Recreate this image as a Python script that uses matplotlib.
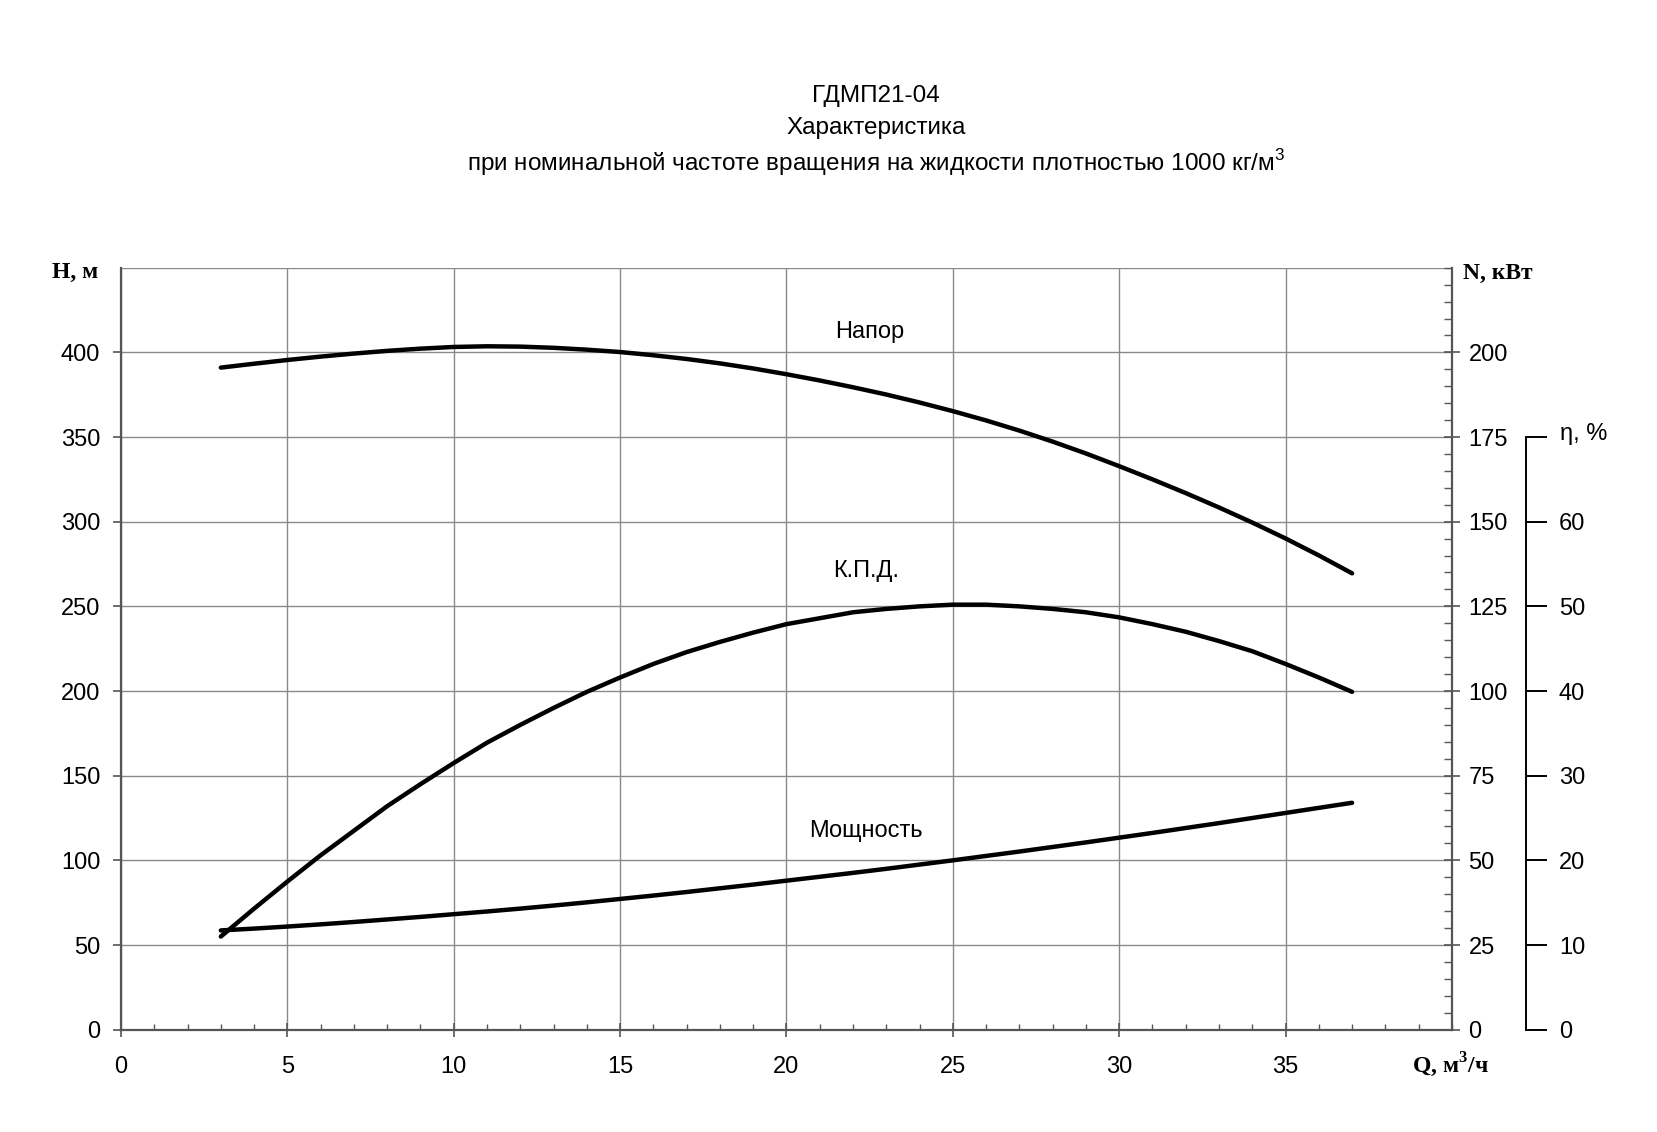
import matplotlib
matplotlib.use('Agg')
import matplotlib.pyplot as plt
from matplotlib.ticker import MultipleLocator

plt.rcParams['font.family'] = ['Liberation Sans', 'DejaVu Sans']
plt.rcParams['mathtext.fontset'] = 'custom'
plt.rcParams['mathtext.rm'] = 'Liberation Sans'
plt.rcParams['mathtext.bf'] = 'Liberation Serif:bold'

# подача, м3/ч
q = [3, 4, 5, 6, 7, 8, 9, 10, 11, 12, 13, 14, 15, 16, 17, 18, 19, 20,
     21, 22, 23, 24, 25, 26, 27, 28, 29, 30, 31, 32, 33, 34, 35, 36, 37]
# напор, м
head = [391, 393.3, 395.5, 397.5, 399.3, 400.9, 402.2, 403.2, 403.6, 403.4,
        402.7, 401.6, 400.2, 398.3, 396.1, 393.5, 390.5, 387.1, 383.4, 379.4,
        375.1, 370.4, 365.3, 359.8, 353.8, 347.3, 340.3, 332.8, 325.0, 316.9,
        308.4, 299.5, 290.1, 280.1, 269.5]
# кпд, %
eff = [11.0, 14.3, 17.5, 20.6, 23.5, 26.4, 29.0, 31.5, 33.9, 36.0, 38.0, 39.9,
       41.6, 43.2, 44.6, 45.8, 46.9, 47.9, 48.6, 49.3, 49.7, 50.0, 50.2, 50.2,
       50.0, 49.7, 49.3, 48.7, 47.9, 47.0, 45.9, 44.7, 43.2, 41.6, 39.9]
# мощность, кВт
power = [29.3, 29.85, 30.45, 31.1, 31.8, 32.55, 33.3, 34.1, 34.9, 35.75, 36.65,
         37.6, 38.6, 39.6, 40.65, 41.75, 42.85, 44.0, 45.15, 46.3, 47.5, 48.75,
         50.0, 51.3, 52.6, 53.95, 55.3, 56.7, 58.1, 59.55, 61.0, 62.5, 64.0,
         65.5, 67.0]

title_lines = ['ГДМП21-04', 'Характеристика',
               'при номинальной частоте вращения на жидкости плотностью 1000 кг/м$^{3}$']

fig = plt.figure(figsize=(16.58, 11.32), dpi=100)
ax = fig.add_axes([0.073, 0.0904, 0.8027, 0.6731])

spine_c = '#555555'
grid_c = '#8a8a8a'
fs = 17

ax.set_xlim(0, 40)
ax.set_ylim(0, 450)
ax.xaxis.set_minor_locator(MultipleLocator(1))
ax.grid(True, which='major', color=grid_c, lw=1.0)
ax.set_axisbelow(True)
for s in ['top', 'right']:
    ax.spines[s].set_visible(False)
for s in ['left', 'bottom']:
    ax.spines[s].set_color(spine_c)
    ax.spines[s].set_linewidth(1.6)
ax.tick_params(axis='y', which='major', direction='out', length=6, width=1.2,
               color=spine_c, labelsize=fs, pad=9)
ax.tick_params(axis='x', which='major', direction='inout', length=10, width=1.2,
               color=spine_c, labelsize=fs, pad=14)
ax.tick_params(axis='x', which='minor', direction='in', length=4, width=1.0, color=spine_c)
ax.set_xticks([0, 5, 10, 15, 20, 25, 30, 35])
ax.set_yticks([0, 50, 100, 150, 200, 250, 300, 350, 400])
ax.axhline(450, color=grid_c, lw=1.0, zorder=0)

# ось мощности
ax2 = ax.twinx()
ax2.set_ylim(0, 225)
ax2.set_yticks([0, 25, 50, 75, 100, 125, 150, 175, 200])
ax2.yaxis.set_minor_locator(MultipleLocator(5))
for s in ['top', 'left', 'bottom']:
    ax2.spines[s].set_visible(False)
ax2.spines['right'].set_color(spine_c)
ax2.spines['right'].set_linewidth(1.6)
ax2.tick_params(axis='y', which='major', direction='inout', length=12, width=1.2,
                color=spine_c, labelsize=fs, pad=6)
ax2.tick_params(axis='y', which='minor', direction='in', length=6, width=1.0, color=spine_c)

# ось кпд
ax3 = ax.twinx()
ax3.set_ylim(0, 90)
ax3.spines['right'].set_position(('axes', 1.0553))
ax3.spines['right'].set_bounds(0, 70)
ax3.spines['right'].set_linewidth(1.4)
for s in ['top', 'left', 'bottom']:
    ax3.spines[s].set_visible(False)
ax3.set_yticks([0, 10, 20, 30, 40, 50, 60, 70])
ax3.set_yticklabels(['0', '10', '20', '30', '40', '50', '60', ''])
ax3.tick_params(axis='y', direction='out', length=15, width=1.4, labelsize=fs, pad=9)

line_kw = dict(color='black', lw=3.2, solid_capstyle='round',
               solid_joinstyle='round', zorder=5)
ax.plot(q, head, **line_kw)
ax2.plot(q, power, **line_kw)
ax3.plot(q, eff, **line_kw)

ax.text(22.5, 412, 'Напор', fontsize=fs, ha='center', va='center')
ax.text(22.4, 271, 'К.П.Д.', fontsize=fs, ha='center', va='center')
ax.text(22.4, 117.5, 'Мощность', fontsize=fs, ha='center', va='center')

serif = ['Liberation Serif', 'DejaVu Serif']
fig.text(98 / 1658, 1 - 272 / 1132, 'H, м', family=serif, weight='bold',
         fontsize=fs, ha='right', va='center')
fig.text(1463 / 1658, 1 - 273 / 1132, 'N, кВт', family=serif, weight='bold',
         fontsize=fs, ha='left', va='center')
fig.text(1450 / 1658, 1 - 1065 / 1132, 'Q, м$^{\\mathbf{3}}$/ч', family=serif, weight='bold',
         fontsize=fs, ha='center', va='center')
fig.text(1560 / 1658, 1 - 434 / 1132, 'η, %', fontsize=fs, ha='left', va='center')

for txt, yy in zip(title_lines, [96, 128, 163]):
    fig.text(876 / 1658, 1 - yy / 1132, txt, fontsize=17.5,
             ha='center', va='center')

fig.savefig('out.png', dpi=100, facecolor='white')
